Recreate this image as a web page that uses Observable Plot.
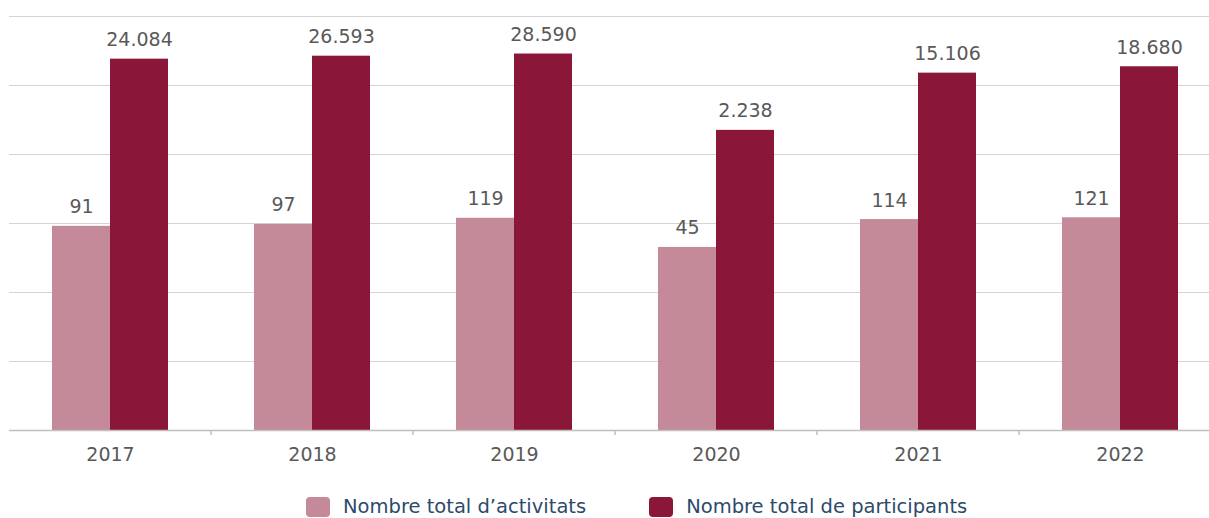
<!DOCTYPE html>
<html>
<head>
<meta charset="utf-8">
<script src="https://cdn.jsdelivr.net/npm/d3@7"></script>
<script src="https://cdn.jsdelivr.net/npm/@observablehq/plot@0.6"></script>
<style>
  html, body { margin: 0; padding: 0; background: #fff; overflow: hidden; width: 1209px; }
  #chart { width: 1209px; overflow: hidden; }
  #chart svg { display: block; max-width: none !important; }
  .legend { display: flex; align-items: center; padding-left: 306px; margin-top: 21px; height: 22px;
    font-family: "DejaVu Sans", Verdana, sans-serif; font-size: 19.5px; line-height: 22px; color: #2d4a6a; white-space: nowrap; }
  .legend .item { display: flex; align-items: center; margin-right: 63px; }
  .legend .sw { width: 24px; height: 20px; border-radius: 4px; margin-right: 13px; }
</style>
</head>
<body>
<div id="chart"></div>
<div class="legend" id="legend"></div>
<script>
const years = ["2017", "2018", "2019", "2020", "2021", "2022"];
const series = ["Nombre total d’activitats", "Nombre total de participants"];
const activitats = [91, 97, 119, 45, 114, 121];
const participants = [24084, 26593, 28590, 2238, 15106, 18680];
const colors = ["#c48a99", "#8a1738"];
const gridTicks = [0.1, 1, 10, 100, 1000, 10000, 100000];

const data = [];
years.forEach((y, i) => {
  data.push({year: y, series: series[0], value: activitats[i]});
  data.push({year: y, series: series[1], value: participants[i]});
});

const fmt = d3.formatLocale({decimal: ",", thousands: ".", grouping: [3], currency: ["", "€"]}).format(",d");
const font = "DejaVu Sans, Verdana, sans-serif";

const plot = Plot.plot({
  width: 1221,
  height: 475,
  marginLeft: 9,
  marginRight: 0,
  marginTop: 16,
  marginBottom: 45,
  style: {fontFamily: font, fontSize: "19px", color: "#595959", background: "#fff", maxWidth: "none"},
  fx: {domain: years, padding: 0, label: null, axis: "bottom", tickSize: 0, tickPadding: 17},
  x: {domain: series, paddingInner: 0, paddingOuter: 0.741, axis: null},
  y: {type: "log", domain: [gridTicks[0], gridTicks[gridTicks.length - 1]], axis: null},
  color: {domain: series, range: colors},
  marks: [
    Plot.gridY(gridTicks, {stroke: "#d4d4d4", strokeOpacity: 1}),
    Plot.barY(data, {fx: "year", x: "series", y1: gridTicks[0], y2: "value", fill: "series", inset: 0}),
    Plot.text(data, {fx: "year", x: "series", y: "value", text: d => fmt(d.value),
      lineAnchor: "bottom", dy: -13, fill: "#595959", fontSize: 19}),
    Plot.ruleY([gridTicks[0]], {stroke: "#bfbfbf", strokeWidth: 1.5})
  ]
});

// separator ticks between year groups, placed via the fx scale
const fxs = plot.scale("fx");
const ys = plot.scale("y");
const yBase = ys.apply(gridTicks[0]);
const g = d3.select(plot).append("g").attr("stroke", "#bfbfbf").attr("stroke-width", 1.5);
years.slice(1).forEach(yr => {
  const x = fxs.apply(yr);
  g.append("line").attr("x1", x).attr("x2", x).attr("y1", yBase).attr("y2", yBase + 5);
});

document.getElementById("chart").appendChild(plot);

const legend = document.getElementById("legend");
series.forEach((s, i) => {
  const it = document.createElement("div");
  it.className = "item";
  const sw = document.createElement("div");
  sw.className = "sw";
  sw.style.background = colors[i];
  const t = document.createElement("span");
  t.textContent = s;
  it.appendChild(sw);
  it.appendChild(t);
  legend.appendChild(it);
});
</script>
</body>
</html>
